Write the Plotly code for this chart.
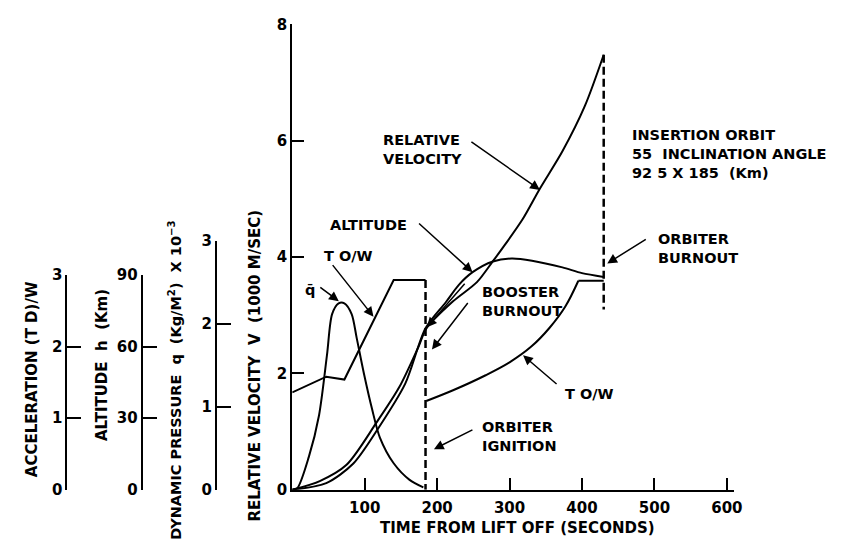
import plotly.graph_objects as go

# ---------------- data ----------------
# relative velocity V, 1000 m/s (main axis)
time_velocity = [0, 38, 75, 116, 148, 175, 185, 222, 255, 277, 290, 318, 342, 373, 404, 430]
velocity = [0, 0.15, 0.43, 1.15, 1.77, 2.48, 2.77, 3.24, 3.57, 3.93, 4.15, 4.65, 5.18, 5.82, 6.60, 7.48]

# altitude h, km
time_altitude = [0, 47, 84, 119, 156, 184, 212, 230, 249, 277, 303, 331, 373, 400, 430]
altitude = [0, 2.8, 10.9, 25.9, 44.5, 67.7, 78.6, 85.9, 91.2, 95.7, 96.9, 96.0, 93.2, 90.8, 89.2]

# dynamic pressure q (Kg/M^2) x 10^-3
time_q = [0, 7, 23, 37, 48, 55, 64, 72, 82, 89, 99, 110, 121, 140, 162, 181]
q_values = [0, 0.02, 0.40, 0.90, 1.63, 2.12, 2.25, 2.25, 2.12, 1.83, 1.40, 0.98, 0.63, 0.32, 0.12, 0.03]

# acceleration (T-D)/W, booster phase and orbiter phase
time_tw_booster = [0, 47, 72, 140, 184]
tw_booster = [1.36, 1.58, 1.54, 2.93, 2.93]
time_tw_orbiter = [185, 222, 267, 300, 330, 355, 377, 395]
tw_orbiter = [1.24, 1.39, 1.60, 1.78, 2.00, 2.26, 2.56, 2.92]
time_tw_orbiter_flat = [395, 430]
tw_orbiter_flat = [2.92, 2.92]

# events (s)
booster_burnout_t = 184
orbiter_burnout_t = 430
orbiter_marker_bottom = 3.1   # lower end of the orbiter-burnout dashed marker, 1000 m/s

# ticks
x_ticks = [100, 200, 300, 400, 500, 600]
v_ticks = [0, 2, 4, 6, 8]
q_ticks = [0, 1, 2, 3]
h_ticks = [0, 30, 60, 90]
a_ticks = [0, 1, 2, 3]

# ---------------- geometry (pixels of the 858x552 page) ----------------
W, H = 858, 552


def px(x):
    return x / W


def py(y):
    return 1 - y / H


X0, X1, T_MAX = 295, 741, 610
Y0, Y_TOP = 497, 16
V_MAX = 8
ACC_TOP, ALT_TOP, Q_TOP = 275, 275, 240
ACC_X, ALT_X, Q_X = 68, 144, 219

main_h = Y0 - Y_TOP
acc_range = 3 * main_h / (Y0 - ACC_TOP)
alt_range = 90 * main_h / (Y0 - ALT_TOP)
q_range = 3 * main_h / (Y0 - Q_TOP)

FONT = "DejaVu Sans, Liberation Sans, sans-serif"

fig = go.Figure()

# curves
fig.add_trace(go.Scatter(x=time_velocity, y=velocity, mode="lines", yaxis="y",
                         line=dict(color="black", width=2, shape="spline", smoothing=0.8)))
fig.add_trace(go.Scatter(x=time_altitude, y=altitude, mode="lines", yaxis="y6",
                         line=dict(color="black", width=2, shape="spline", smoothing=0.8)))
fig.add_trace(go.Scatter(x=time_q, y=q_values, mode="lines", yaxis="y7",
                         line=dict(color="black", width=2, shape="spline", smoothing=0.8)))
fig.add_trace(go.Scatter(x=time_tw_booster, y=tw_booster, mode="lines", yaxis="y5",
                         line=dict(color="black", width=2)))
fig.add_trace(go.Scatter(x=time_tw_orbiter, y=tw_orbiter, mode="lines", yaxis="y5",
                         line=dict(color="black", width=2, shape="spline", smoothing=1.0)))
fig.add_trace(go.Scatter(x=time_tw_orbiter_flat, y=tw_orbiter_flat, mode="lines", yaxis="y5",
                         line=dict(color="black", width=2)))
# event markers (dashed)
fig.add_trace(go.Scatter(x=[booster_burnout_t, booster_burnout_t], y=[tw_booster[-1], 0],
                         mode="lines", yaxis="y5",
                         line=dict(color="black", width=2.5, dash="8px,4px")))
fig.add_trace(go.Scatter(x=[orbiter_burnout_t, orbiter_burnout_t],
                         y=[velocity[-1], orbiter_marker_bottom],
                         mode="lines", yaxis="y",
                         line=dict(color="black", width=2.5, dash="8px,4px")))

# empty traces so the stand-alone scale subplots exist
for xa, ya in (("x2", "y2"), ("x3", "y3"), ("x4", "y4")):
    fig.add_trace(go.Scatter(x=[], y=[], xaxis=xa, yaxis=ya, mode="lines",
                             hoverinfo="skip"))

tickfont = dict(family=FONT, size=15, color="black", weight="bold")


def scale_axis(domain_top, rng, vals, anchor):
    return dict(domain=[py(Y0), py(domain_top)], range=rng, anchor=anchor,
                tickvals=vals, ticktext=[str(v) for v in vals],
                ticks="inside", ticklen=14, tickwidth=2, tickcolor="black",
                showline=True, linecolor="black", linewidth=2,
                showgrid=False, zeroline=False, tickfont=tickfont, fixedrange=True)


def dummy_x(xpos):
    return dict(domain=[px(xpos), px(xpos + 1)], visible=False, fixedrange=True)


fig.update_layout(
    width=W, height=H,
    margin=dict(l=0, r=0, t=0, b=0),
    paper_bgcolor="white", plot_bgcolor="rgba(0,0,0,0)",
    showlegend=False, hovermode=False,
    font=dict(family=FONT, size=14, color="black", weight="bold"),
    xaxis=dict(domain=[px(X0), px(X1)], range=[0, T_MAX], anchor="y",
               tickvals=x_ticks, ticktext=[str(v) for v in x_ticks],
               ticks="inside", ticklen=12, tickwidth=2, tickcolor="black",
               showline=True, linecolor="black", linewidth=2,
               showgrid=False, zeroline=False, tickfont=tickfont, ticklabelstandoff=3),
    yaxis=dict(domain=[py(Y0), py(Y_TOP)], range=[0, V_MAX], anchor="x",
               tickvals=v_ticks, ticktext=[str(v) for v in v_ticks],
               ticks="inside", ticklen=12, tickwidth=2, tickcolor="black",
               showline=True, linecolor="black", linewidth=2,
               showgrid=False, zeroline=False, tickfont=tickfont),
    xaxis2=dummy_x(ACC_X), xaxis3=dummy_x(ALT_X), xaxis4=dummy_x(Q_X),
    yaxis2=scale_axis(ACC_TOP, [0, 3], a_ticks, "x2"),
    yaxis3=scale_axis(ALT_TOP, [0, 90], h_ticks, "x3"),
    yaxis4=scale_axis(Q_TOP, [0, 3], q_ticks, "x4"),
    yaxis5=dict(overlaying="y", anchor="x", range=[0, acc_range], visible=False),
    yaxis6=dict(overlaying="y", anchor="x", range=[0, alt_range], visible=False),
    yaxis7=dict(overlaying="y", anchor="x", range=[0, q_range], visible=False),
)

NB = "\u00a0"
ann = []
# axis titles (vertical)
vtitles = [
    ("ACCELERATION (T" + NB + "D)/W", 32, 383, 15),
    ("ALTITUDE" + NB * 2 + "h" + NB * 2 + "(Km)", 103, 368, 15),
    ("DYNAMIC PRESSURE" + NB * 2 + "q" + NB * 2 + "(Kg/M<sup>2</sup>)" + NB * 2 + "X 10<sup>\u22123</sup>", 177, 384, 14.5),
    ("RELATIVE VELOCITY" + NB * 2 + "V" + NB * 2 + "(1000 M/SEC)", 257, 369, 15),
]
for text, x, y, fs in vtitles:
    ann.append(dict(text=text, x=px(x), y=py(y), xref="paper", yref="paper",
                    xanchor="center", yanchor="middle", textangle=-90, showarrow=False,
                    font=dict(family=FONT, size=fs, color="black", weight="bold")))
ann.append(dict(text="TIME FROM LIFT OFF (SECONDS)", x=px(522), y=py(537),
                xref="paper", yref="paper", xanchor="center", yanchor="middle",
                showarrow=False, font=dict(family=FONT, size=15, color="black", weight="bold")))

# labels
labels = [
    ("RELATIVE<br>VELOCITY", 385, 145, "left"),
    ("ALTITUDE", 413, 223, "right"),
    ("T" + NB + "O/W", 325, 255, "left"),
    ("q\u0304", 313, 290, "center"),
    ("BOOSTER<br>BURNOUT", 485, 302, "left"),
    ("T" + NB + "O/W", 568, 398, "left"),
    ("ORBITER<br>IGNITION", 485, 442, "left"),
    ("ORBITER<br>BURNOUT", 662, 248, "left"),
    ("INSERTION ORBIT<br>55" + NB * 2 + "INCLINATION ANGLE<br>92" + NB + "5 X 185" + NB * 2 + "(Km)", 636, 150, "left"),
]
for text, x, y, anc in labels:
    ann.append(dict(text=text, x=px(x), y=py(y), xref="paper", yref="paper",
                    xanchor=anc, yanchor="middle", align="left", showarrow=False,
                    font=dict(family=FONT, size=14.5, color="black", weight="bold")))

# arrows: (tail x, tail y) -> (head x, head y) in page pixels
arrows = [
    (475, 138, 545, 187),
    (422, 222, 477, 272),
    (335, 265, 377, 318),
    (322, 287, 342, 302),
    (470, 284, 431, 329),
    (473, 304, 436, 352),
    (563, 388, 528, 358),
    (478, 435, 438, 455),
    (653, 238, 613, 263),
]
for tx, ty, hx, hy in arrows:
    ann.append(dict(text="", x=px(hx), y=py(hy), xref="paper", yref="paper",
                    ax=tx - hx, ay=ty - hy, axref="pixel", ayref="pixel",
                    showarrow=True, arrowhead=2, arrowsize=1.3, arrowwidth=1.5,
                    arrowcolor="black", standoff=0))

fig.update_layout(annotations=ann)

fig.write_html("out.html")
